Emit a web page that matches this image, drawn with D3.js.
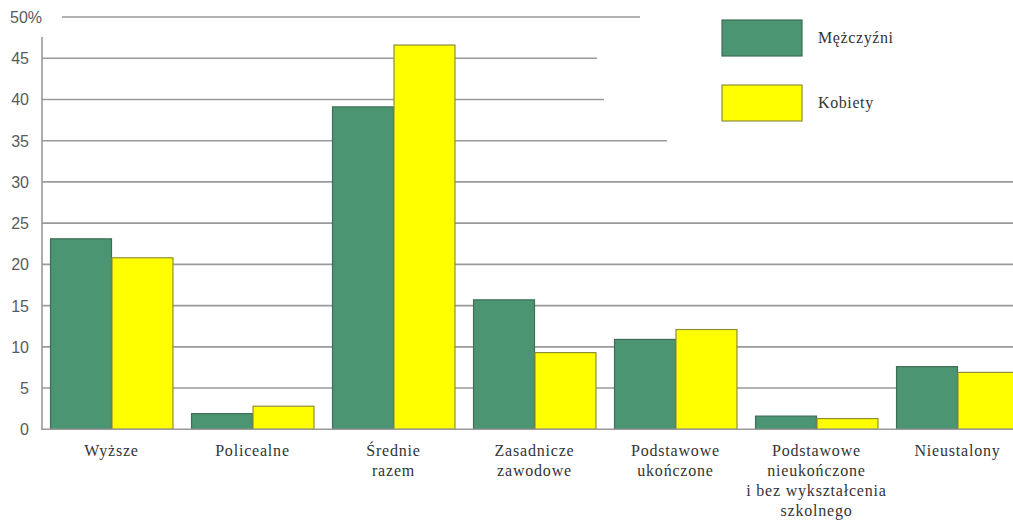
<!DOCTYPE html>
<html><head><meta charset="utf-8">
<script src="https://cdn.jsdelivr.net/npm/d3@7"></script>
<style>
html,body{margin:0;padding:0;background:#fff;}
svg{display:block;}
</style>
</head><body>
<svg id="chart" width="1013" height="522"></svg>
<script>
// ---- data ----
const categories = [
  ["Wyższe"],
  ["Policealne"],
  ["Średnie", "razem"],
  ["Zasadnicze", "zawodowe"],
  ["Podstawowe", "ukończone"],
  ["Podstawowe", "nieukończone", "i bez wykształcenia", "szkolnego"],
  ["Nieustalony"]
];
const seriesNames = ["Mężczyźni", "Kobiety"];
const men   = [23.1, 1.9, 39.1, 15.7, 10.9, 1.6, 7.6];
const women = [20.8, 2.8, 46.6, 9.3, 12.1, 1.3, 6.9];
const yTicks = [0, 5, 10, 15, 20, 25, 30, 35, 40, 45, 50];

// ---- layout ----
const W = 1013, H = 522;
const svg = d3.select("#chart");
const y = d3.scaleLinear().domain([0, 50]).range([429.3, 17]);
const x0 = d3.scaleBand().domain(d3.range(categories.length)).range([41, 1028])
  .paddingInner(0.128).paddingOuter(0.064);
const x1 = d3.scaleBand().domain([0, 1]).range([0, x0.bandwidth()]);
const fills = ["#4b9572", "#ffff00"];
const strokes = ["#3f6e58", "#8f8f3a"];
const gridColor = "#9a9a9a";
// grid lines are interrupted by the legend in the upper right
const gridEnd = v => v === 50 ? 640 : v === 45 ? 597 : v === 40 ? 604 : v === 35 ? 667 : W;
const gridStart = v => v === 50 ? 62 : 42;

// gridlines
svg.append("g").selectAll("line").data(yTicks.filter(v => v > 0)).join("line")
  .attr("x1", d => gridStart(d)).attr("x2", d => gridEnd(d))
  .attr("y1", d => y(d)).attr("y2", d => y(d))
  .attr("stroke", gridColor).attr("stroke-width", 1.6);

// y labels
svg.append("g").selectAll("text").data(yTicks).join("text")
  .attr("x", d => d === 50 ? 10 : 29)
  .attr("y", d => y(d) + 6)
  .attr("text-anchor", d => d === 50 ? "start" : "end")
  .attr("font-family", "Liberation Sans, Arial, sans-serif")
  .attr("font-size", 16).attr("fill", "#5a5a5a")
  .text(d => d === 50 ? "50%" : d);

// bars
const series = [men, women];
const g = svg.append("g");
series.forEach((vals, si) => {
  g.append("g").selectAll("rect").data(vals).join("rect")
    .attr("x", (d, i) => x0(i) + x1(si) + 0.5)
    .attr("y", d => y(d))
    .attr("width", x1.bandwidth() - 0.5)
    .attr("height", d => y(0) - y(d))
    .attr("fill", fills[si])
    .attr("stroke", strokes[si]).attr("stroke-width", 1.2);
});

// axes lines
svg.append("line").attr("x1", 42).attr("x2", 42).attr("y1", 37).attr("y2", y(0))
  .attr("stroke", gridColor).attr("stroke-width", 1.6);
svg.append("line").attr("x1", 41).attr("x2", W).attr("y1", y(0)).attr("y2", y(0))
  .attr("stroke", gridColor).attr("stroke-width", 1.6);

// category labels
const lab = svg.append("g").attr("font-family", "Liberation Serif, Times New Roman, serif")
  .attr("font-size", 16).attr("fill", "#333").attr("letter-spacing", 0.8);
categories.forEach((lines, i) => {
  const t = lab.append("text").attr("text-anchor", "middle")
    .attr("x", x0(i) + x0.bandwidth() / 2).attr("y", 456);
  lines.forEach((l, k) => t.append("tspan")
    .attr("x", x0(i) + x0.bandwidth() / 2).attr("dy", k === 0 ? 0 : 20).text(l));
});

// legend
const leg = svg.append("g");
seriesNames.forEach((n, i) => {
  const yy = 20 + i * 65;
  leg.append("rect").attr("x", 722).attr("y", yy).attr("width", 80).attr("height", 36)
    .attr("fill", fills[i]).attr("stroke", strokes[i]).attr("stroke-width", 1.2);
  leg.append("text").attr("x", 818).attr("y", yy + 23)
    .attr("font-family", "Liberation Serif, Times New Roman, serif")
    .attr("font-size", 16).attr("fill", "#333").attr("letter-spacing", 0.6).text(n);
});
</script>
</body></html>
